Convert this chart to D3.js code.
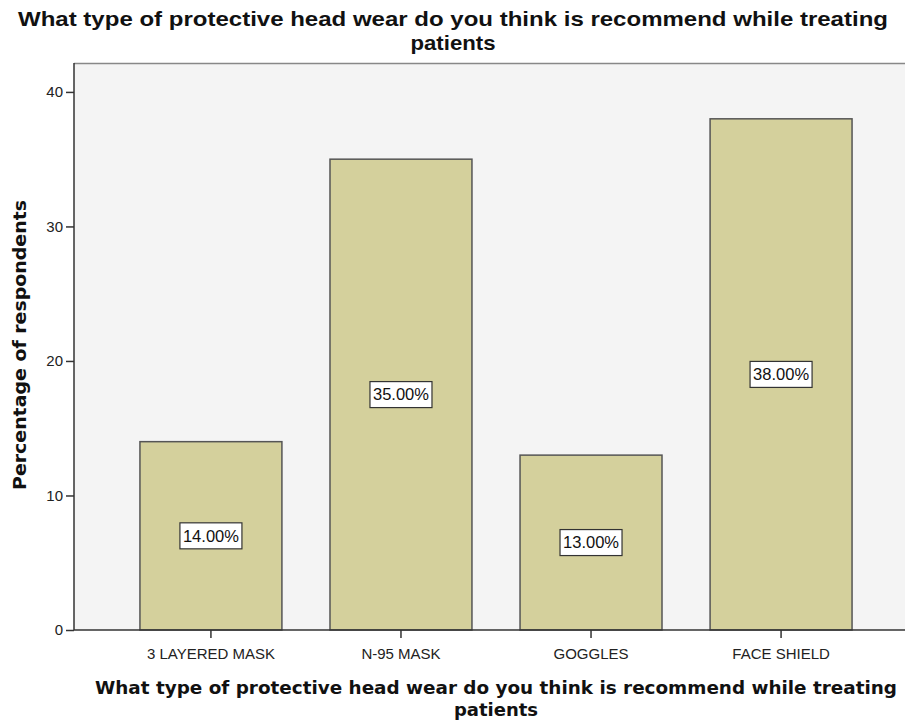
<!DOCTYPE html>
<html><head><meta charset="utf-8">
<script src="https://cdn.jsdelivr.net/npm/d3@7"></script>
<style>body{margin:0;background:#fff}svg{display:block}</style>
</head><body>
<script>
const categories = ["3 LAYERED MASK", "N-95 MASK", "GOGGLES", "FACE SHIELD"];
const values = [14, 35, 13, 38];
const valueLabels = ["14.00%", "35.00%", "13.00%", "38.00%"];
const yTicks = [0, 10, 20, 30, 40];
const titleText = "What type of protective head wear do you think is recommend while treating";
const titleText2 = "patients";
const yTitle = "Percentage of respondents";

const W = 905, H = 721;
const L = 74, T = 63, B = 630, R = 918;
const svg = d3.select("body").append("svg").attr("width", W).attr("height", H);

const y = d3.scaleLinear().domain([0, 42.15]).range([B, T]);
const x = d3.scaleBand().domain(categories).range([L, R]).paddingInner(0.253).paddingOuter(0.347);

svg.append("rect").attr("x", L).attr("y", T).attr("width", R - L).attr("height", B - T).attr("fill", "#f4f4f4");
svg.append("line").attr("x1", L).attr("x2", R).attr("y1", T + 0.5).attr("y2", T + 0.5).attr("stroke", "#888").attr("stroke-width", 1.5);

svg.selectAll("rect.bar").data(values).enter().append("rect").attr("class", "bar")
  .attr("x", (d, i) => x(categories[i])).attr("width", x.bandwidth())
  .attr("y", d => y(d)).attr("height", d => B - y(d))
  .attr("fill", "#d4d09c").attr("stroke", "#555").attr("stroke-width", 1.5);

// y axis
const ya = svg.append("g").attr("transform", `translate(${L},0)`)
  .call(d3.axisLeft(y).tickValues(yTicks).tickSize(8).tickPadding(3).tickFormat(d3.format("d")));
ya.select(".domain").attr("d", `M0,${T}V${B}`).attr("stroke", "#333").attr("stroke-width", 1.5);
ya.selectAll(".tick line").attr("stroke", "#333").attr("stroke-width", 1.5);
ya.selectAll(".tick text").attr("font-family", "Arial, Liberation Sans, sans-serif").attr("font-size", 15).attr("fill", "#222");

// x axis
const xa = svg.append("g").attr("transform", `translate(0,${B})`)
  .call(d3.axisBottom(x).tickSize(8).tickPadding(10));
xa.select(".domain").attr("d", `M${L},0H${R}`).attr("stroke", "#333").attr("stroke-width", 1.5);
xa.selectAll(".tick line").attr("stroke", "#333").attr("stroke-width", 1.5);
xa.selectAll(".tick text").attr("font-family", "Arial, Liberation Sans, sans-serif").attr("font-size", 15).attr("fill", "#222");

// value labels
const lg = svg.selectAll("g.lbl").data(values).enter().append("g").attr("class", "lbl")
  .attr("transform", (d, i) => `translate(${x(categories[i]) + x.bandwidth() / 2},${(y(d) + B) / 2})`);
lg.append("rect").attr("x", -31).attr("y", -13).attr("width", 62).attr("height", 26)
  .attr("fill", "#fff").attr("stroke", "#333").attr("stroke-width", 1.2);
lg.append("text").text((d, i) => valueLabels[i]).attr("text-anchor", "middle").attr("dy", "0.36em")
  .attr("font-family", "Arial, Liberation Sans, sans-serif").attr("font-size", 16).attr("fill", "#111")
  .attr("textLength", 56).attr("lengthAdjust", "spacingAndGlyphs");

// title
function fit(sel, w) { sel.attr("textLength", w).attr("lengthAdjust", "spacingAndGlyphs"); }
const t1 = svg.append("text").attr("x", 453).attr("y", 26).attr("text-anchor", "middle")
  .attr("font-family", "Arial, Liberation Sans, sans-serif").attr("font-weight", "bold").attr("font-size", 21).attr("fill", "#111").text(titleText);
fit(t1, 870);
const t2 = svg.append("text").attr("x", 453).attr("y", 50).attr("text-anchor", "middle")
  .attr("font-family", "Arial, Liberation Sans, sans-serif").attr("font-weight", "bold").attr("font-size", 21).attr("fill", "#111").text(titleText2);
fit(t2, 85);

// x title
const xt = svg.append("text").attr("x", 496).attr("y", 694).attr("text-anchor", "middle")
  .attr("font-family", "Verdana, DejaVu Sans, sans-serif").attr("font-weight", "bold").attr("font-size", 18).attr("fill", "#111").text(titleText);
fit(xt, 802);
svg.append("text").attr("x", 496).attr("y", 716).attr("text-anchor", "middle")
  .attr("font-family", "Verdana, DejaVu Sans, sans-serif").attr("font-weight", "bold").attr("font-size", 18).attr("fill", "#111").text(titleText2);

// y title
const yt = svg.append("text").attr("transform", "translate(26,345) rotate(-90)").attr("text-anchor", "middle")
  .attr("font-family", "Verdana, DejaVu Sans, sans-serif").attr("font-weight", "bold").attr("font-size", 18).attr("fill", "#111").text(yTitle);
fit(yt, 290);
</script>
</body></html>
